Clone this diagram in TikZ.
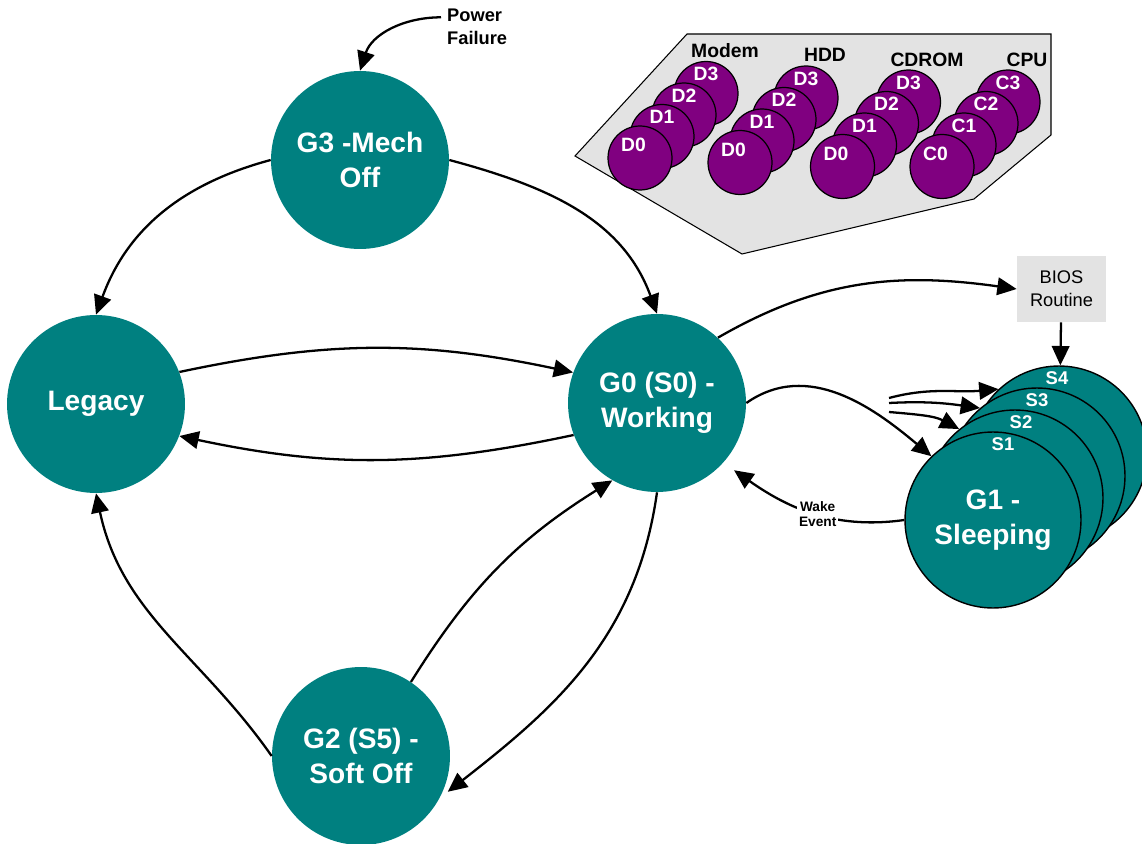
\documentclass[tikz,border=0pt]{standalone}
\usepackage{fontspec}
\setmainfont{Liberation Sans}
\usetikzlibrary{shapes.geometric, arrows.meta}
\definecolor{stateteal}{HTML}{008080}
\definecolor{devpurple}{HTML}{800080}
\definecolor{panelgray}{HTML}{E3E3E3}
\tikzstyle{gstate} = [circle, minimum size=3.56cm, inner sep=0pt, fill=stateteal, text=white, align=center, font=\fontsize{16}{20}\selectfont\bfseries]
\tikzstyle{sstate} = [gstate, minimum size=3.52cm, draw=black, line width=0.8pt]
\tikzstyle{devstate} = [circle, minimum size=1.28cm, inner sep=0pt, fill=devpurple, draw=black, line width=0.7pt]
\tikzstyle{devtext} = [text=white, inner sep=0pt, yshift=0.39cm, font=\fontsize{11}{13}\selectfont\bfseries]
\tikzstyle{fronttext} = [devtext, xshift=-0.13cm, yshift=-0.13cm]
\tikzstyle{stext} = [text=white, inner sep=0pt, yshift=1.52cm, font=\fontsize{10.5}{12}\selectfont\bfseries]
\tikzstyle{grouptext} = [inner sep=0pt, font=\fontsize{11}{13}\selectfont\bfseries]
\tikzstyle{note} = [align=left, font=\fontsize{10.4}{13}\selectfont\bfseries]
\tikzstyle{wake} = [fill=white, align=center, inner sep=1pt, font=\fontsize{7.8}{9}\selectfont\bfseries]
\tikzstyle{biosbox} = [rectangle, fill=panelgray, minimum width=1.78cm, minimum height=1.32cm, align=center, font=\fontsize{10.4}{13}\selectfont]
\tikzstyle{arrow} = [line width=1.3pt, ->, >={Triangle[length=11pt,width=10pt]}]

\begin{document}
\begin{tikzpicture}[x=0.02cm, y=0.02cm]
    \useasboundingbox (0,0) rectangle (1142,-844);

    % global states
    \node [gstate]                  (g3)        at (360,-160)   {G3 -Mech\\Off};
    \node [gstate]                  (legacy)    at (96,-404)    {Legacy};
    \node [gstate]                  (g0)        at (657,-403)   {G0 (S0) -\\Working};
    \node [gstate]                  (g2)        at (361,-756)   {G2 (S5) -\\Soft Off};

    % sleeping states
    \node [sstate, label={[stext, xshift=-0.04cm]center:S4}]    (s4)    at (1059,-454)  {};
    \node [sstate, label={[stext]center:S3}]                    (s3)    at (1037,-476)  {};
    \node [sstate, label={[stext, xshift=0.12cm]center:S2}]     (s2)    at (1015,-498)  {};
    \node [sstate, label={[stext, xshift=0.2cm]center:S1}]      (s1)    at (993,-520)   {G1 -\\Sleeping};

    \node [biosbox]                 (bios)      at (1061.5,-289) {BIOS\\Routine};
    \node [note, anchor=west]       (power)     at (441,-27)    {Power\\Failure};

    % device states
    \draw [fill=panelgray, line width=0.6pt] (687,-34) -- (1051,-34) -- (1051,-135) -- (974,-199) -- (742,-254) -- (575,-156) -- cycle;

    \node [devstate, label={[devtext]center:D3}]    (modem3)    at (706,-93.5)      {};
    \node [devstate, label={[devtext]center:D2}]    (modem2)    at (684,-115)       {};
    \node [devstate, label={[devtext]center:D1}]    (modem1)    at (662,-136.5)     {};
    \node [devstate, label={[fronttext]center:D0}]  (modem0)    at (640,-158)       {};
    \node [devstate, label={[devtext]center:D3}]    (hdd3)      at (806,-98)        {};
    \node [devstate, label={[devtext]center:D2}]    (hdd2)      at (784,-119.5)     {};
    \node [devstate, label={[devtext]center:D1}]    (hdd1)      at (762,-141)       {};
    \node [devstate, label={[fronttext]center:D0}]  (hdd0)      at (740,-162.5)     {};
    \node [devstate, label={[devtext]center:D3}]    (cdrom3)    at (908.5,-102)     {};
    \node [devstate, label={[devtext]center:D2}]    (cdrom2)    at (886.5,-123.5)   {};
    \node [devstate, label={[devtext]center:D1}]    (cdrom1)    at (864.5,-145)     {};
    \node [devstate, label={[fronttext]center:D0}]  (cdrom0)    at (842.5,-166.5)   {};
    \node [devstate, label={[devtext]center:C3}]    (cpu3)      at (1008,-102)      {};
    \node [devstate, label={[devtext]center:C2}]    (cpu2)      at (986,-123.5)     {};
    \node [devstate, label={[devtext]center:C1}]    (cpu1)      at (964,-145)       {};
    \node [devstate, label={[fronttext]center:C0}]  (cpu0)      at (942,-166.5)     {};

    \node [grouptext]               (modem)     at (725,-51)    {Modem};
    \node [grouptext]               (hdd)       at (825,-55)    {HDD};
    \node [grouptext]               (cdrom)     at (927,-60)    {CDROM};
    \node [grouptext]               (cpu)       at (1027,-60)   {CPU};

    % transitions
    \draw [arrow] (power.165) to[out=180, in=72] (g3.north);
    \draw [arrow] (g3.west) to[out=195, in=70] (legacy.north);
    \draw [arrow] (g3.east) to[out=-15, in=110] (g0.north);
    \draw [arrow] (legacy.21) to[out=12, in=168] (g0.160);
    \draw [arrow] (g0.201) to[out=192, in=-12] (legacy.-21);
    \draw [arrow] (g2.west) to[out=125, in=-78] (legacy.south);
    \draw [arrow] (g2.56) to[out=58, in=212] (g0.240);
    \draw [arrow, shorten >=0.2cm] (g0.south) to[out=262, in=38] (g2.-28);
    \draw [arrow] (g0.47) to[out=30, in=172] (bios.west);
    \draw [arrow] (bios) -- (s4);
    \draw [arrow] (g0.east) to[out=35, in=140] (s1.134);
    \coordinate (fork) at (889,-403);
    \draw [arrow] ([yshift=0.1cm]fork) to[out=15, in=185] (s4.133);
    \draw [arrow] (fork) to[out=3, in=172] (s3.130);
    \draw [arrow] ([yshift=-0.18cm]fork) to[out=-5, in=152] (s2.129);
    \draw [arrow, shorten >=0.26cm] (s1.west) to[out=188, in=-35] node[wake, pos=0.45] (wakeevent) {Wake\\Event} (g0.-42);
\end{tikzpicture}
\end{document}
